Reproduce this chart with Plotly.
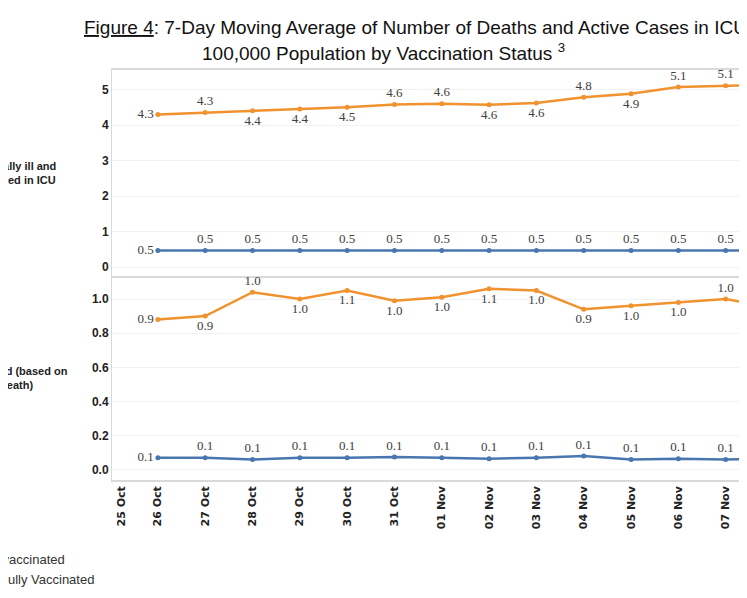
import plotly.graph_objects as go
from plotly.subplots import make_subplots

dates = ["26 Oct","27 Oct","28 Oct","29 Oct","30 Oct","31 Oct","01 Nov","02 Nov","03 Nov","04 Nov","05 Nov","06 Nov","07 Nov","08 Nov"]
tick_labels = ["25 Oct"] + dates
icu_unvax = [4.30,4.35,4.40,4.45,4.50,4.58,4.60,4.57,4.62,4.78,4.88,5.07,5.11,5.14]
icu_unvax_txt = ["4.3","4.3","4.4","4.4","4.5","4.6","4.6","4.6","4.6","4.8","4.9","5.1","5.1",""]
icu_unvax_pos = ["middle left","top center","bottom center","bottom center","bottom center","top center","top center","bottom center","bottom center","top center","bottom center","top center","top center","top center"]
icu_vax = [0.47]*14
icu_vax_txt = ["0.5"]*13 + [""]
death_unvax = [0.88,0.90,1.04,1.00,1.05,0.99,1.01,1.06,1.05,0.94,0.96,0.98,1.00,0.95]
death_unvax_txt = ["0.9","0.9","1.0","1.0","1.1","1.0","1.0","1.1","1.0","0.9","1.0","1.0","1.0",""]
death_unvax_pos = ["middle left","bottom center","top center","bottom center","bottom center","bottom center","bottom center","bottom center","bottom center","bottom center","bottom center","bottom center","top center","top center"]
death_vax = [0.07,0.07,0.06,0.07,0.07,0.075,0.07,0.065,0.07,0.08,0.06,0.065,0.06,0.065]
death_vax_txt = ["0.1"]*13 + [""]

ORANGE = "#F0922E"
BLUE = "#4A76B0"
W, H = 747, 598
L, T, B = 104, 62, 126
xpos = list(range(len(dates)))
tickpos = [-0.78] + xpos

fig = make_subplots(rows=2, cols=1, shared_xaxes=True, vertical_spacing=0,
                    row_heights=[206, 204])

lab_font = dict(family="Liberation Serif", size=13, color="#404040")

def add(y, txt, pos, color, row):
    fig.add_trace(go.Scatter(x=xpos, y=y, text=txt, mode="lines+markers+text",
                             textposition=pos, textfont=lab_font,
                             line=dict(color=color, width=2.5),
                             marker=dict(size=5, color=color),
                             cliponaxis=False, showlegend=False), row=row, col=1)

vpos = ["middle left"] + ["top center"]*13
add(icu_unvax, icu_unvax_txt, icu_unvax_pos, ORANGE, 1)
add(icu_vax, icu_vax_txt, vpos, BLUE, 1)
add(death_unvax, death_unvax_txt, death_unvax_pos, ORANGE, 2)
add(death_vax, death_vax_txt, vpos, BLUE, 2)

tickfont = dict(family="DejaVu Sans", size=11, color="#222222")
axcommon = dict(showline=True, linecolor="#D9D9D9", linewidth=1, mirror=False,
                gridcolor="#F2F2F2", zeroline=False,
                tickfont=dict(family="Liberation Sans", size=12, color="#222222"), ticks="")
fig.update_yaxes(range=[-0.25, 5.55], tickvals=[0,1,2,3,4,5], ticktext=["<b>%d</b>" % v for v in [0,1,2,3,4,5]], row=1, col=1, **axcommon)
fig.update_yaxes(range=[-0.06, 1.135], tickvals=[0,0.2,0.4,0.6,0.8,1.0], ticktext=["<b>%.1f</b>" % v for v in [0,0.2,0.4,0.6,0.8,1.0]], row=2, col=1, **axcommon)
fig.update_xaxes(range=[-0.97, 12.62], showgrid=False, showline=True, linecolor="#D9D9D9",
                 linewidth=1.5, mirror=True, zeroline=False, ticks="", row=1, col=1)
fig.update_xaxes(range=[-0.97, 12.62], showgrid=False, showline=True, linecolor="#D9D9D9",
                 linewidth=1.5, mirror=False, zeroline=False, ticks="", row=2, col=1)
fig.update_xaxes(tickvals=tickpos, ticktext=["<b>%s</b>" % t for t in tick_labels],
                 tickangle=-90, tickfont=tickfont, row=2, col=1)

def px(x):
    return (x - L) / (W - L)

ann = [
    dict(text="<u>Figure 4</u>: 7-Day Moving Average of Number of Deaths and Active Cases in ICU,",
         x=px(746), y=1.0 + (T - 20) / (H - T - B), xanchor="right", yanchor="middle",
         font=dict(family="Liberation Sans", size=19, color="#111111")),
    dict(text="100,000 Population by Vaccination Status <sup>3</sup>",
         x=px(375), y=1.0 + (T - 44) / (H - T - B), xanchor="center", yanchor="middle",
         font=dict(family="Liberation Sans", size=19, color="#111111")),
    dict(text="<b>Critically ill and<br>admitted in ICU</b>", x=px(50), y=1 - (165 - T) / (H - T - B),
         xanchor="right", yanchor="middle", align="left",
         font=dict(family="Liberation Sans", size=11, color="#222222")),
    dict(text="<b>Deceased (based on<br>date of death)</b>", x=px(62), y=1 - (370 - T) / (H - T - B),
         xanchor="right", yanchor="middle", align="left",
         font=dict(family="Liberation Sans", size=11, color="#222222")),
    dict(text="Unvaccinated", x=px(59), y=1 - (551 - T) / (H - T - B),
         xanchor="right", yanchor="middle",
         font=dict(family="Liberation Sans", size=13, color="#333333")),
    dict(text="Fully Vaccinated", x=px(88), y=1 - (571 - T) / (H - T - B),
         xanchor="right", yanchor="middle",
         font=dict(family="Liberation Sans", size=13, color="#333333")),
]
for a in ann:
    a.update(xref="paper", yref="paper", showarrow=False)
fig.update_layout(annotations=ann, width=W, height=H, margin=dict(l=L, r=0, t=T, b=B),
                  plot_bgcolor="white", paper_bgcolor="white")
fig.write_html("out.html")
